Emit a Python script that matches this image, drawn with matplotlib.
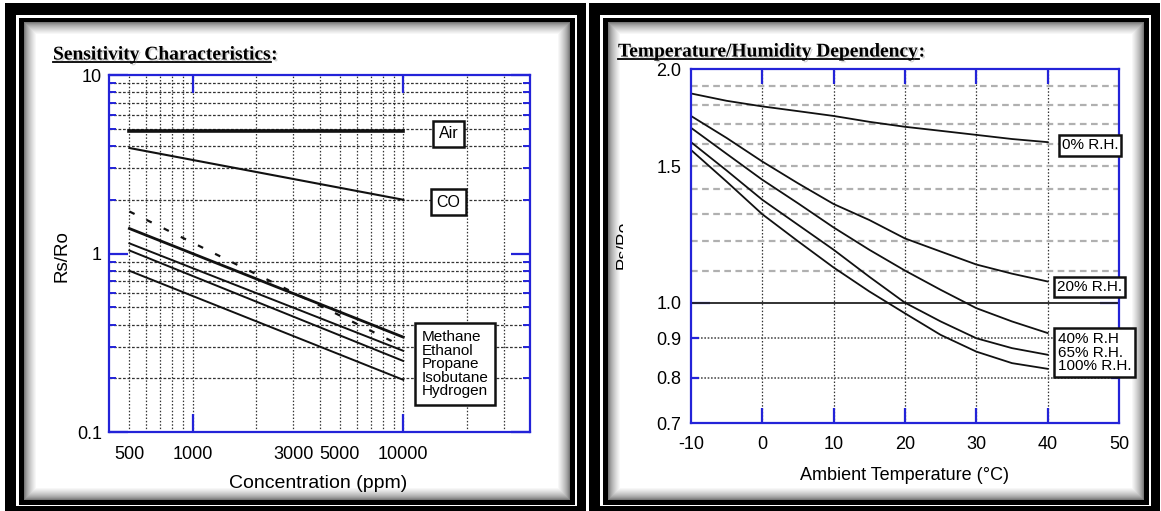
import matplotlib.pyplot as plt
import matplotlib.patheffects as pe
from matplotlib.patches import Rectangle
from matplotlib.lines import Line2D
from matplotlib.ticker import NullFormatter
from matplotlib.transforms import Bbox, TransformedBbox

plt.rcParams['font.family'] = ['Liberation Sans', 'DejaVu Sans']

# ---- left chart: sensitivity characteristics (log-log) ----
conc = [500, 10000]
air = [4.85, 4.85]
co = [3.9, 2.0]
methane = [1.72, 0.30]
ethanol = [1.38, 0.34]
propane = [1.14, 0.285]
isobutane = [1.04, 0.25]
hydrogen = [0.80, 0.196]

conc_ticks = [500, 1000, 3000, 5000, 10000]
conc_labels = ['500', '1000', '3000', '5000', '10000']
conc_grid = [500, 600, 700, 800, 900, 1000, 2000, 3000, 4000, 5000,
             6000, 7000, 8000, 9000, 10000, 20000, 30000]
ratio_grid = [0.2, 0.3, 0.4, 0.5, 0.6, 0.7, 0.8, 0.9,
              2, 3, 4, 5, 6, 7, 8, 9]
gas_names = ['Methane', 'Ethanol', 'Propane', 'Isobutane', 'Hydrogen']

# ---- right chart: temperature / humidity dependency ----
temp = [-10, -5, 0, 5, 10, 15, 20, 25, 30, 35, 40]
rh0 = [1.86, 1.82, 1.79, 1.765, 1.74, 1.71, 1.685, 1.665, 1.645, 1.625, 1.61]
rh20 = [1.74, 1.63, 1.52, 1.425, 1.34, 1.278, 1.21, 1.164, 1.12, 1.09, 1.065]
rh40 = [1.68, 1.555, 1.44, 1.343, 1.25, 1.17, 1.10, 1.039, 0.984, 0.946, 0.914]
rh65 = [1.61, 1.48, 1.357, 1.26, 1.17, 1.08, 1.00, 0.946, 0.90, 0.874, 0.857]
rh100 = [1.573, 1.432, 1.30, 1.20, 1.11, 1.034, 0.969, 0.909, 0.865, 0.836, 0.822]

temp_ticks = [-10, 0, 10, 20, 30, 40, 50]
dep_ticks = [0.7, 0.8, 0.9, 1.0, 1.5, 2.0]
dep_labels = ['0.7', '0.8', '0.9', '1.0', '1.5', '2.0']
dep_grid_dashed = [1.1, 1.2, 1.3, 1.4, 1.5, 1.6, 1.7, 1.8, 1.9]
dep_grid_dotted = [0.8, 0.9]

BLUE = '#2323d8'
W, H = 1161, 511
fig = plt.figure(figsize=(W / 100, H / 100), dpi=100)


def fx(px):
    return px / W


def fy(py):
    return 1 - py / H


def box(x0, y0, x1, y1, color, z):
    fig.add_artist(Rectangle((fx(x0), fy(y1)), (x1 - x0) / W, (y1 - y0) / H,
                             transform=fig.transFigure, facecolor=color,
                             edgecolor='none', zorder=z))


def frame(x0, y0, x1, y1):
    # thick black frame, white gap, thin black frame, soft inner shadow
    box(x0, y0, x1, y1, 'black', -10)
    box(x0 + 11, y0 + 12, x1 - 9, y1 - 8, 'white', -9.9)
    box(x0 + 14, y0 + 15, x1 - 11, y1 - 9, 'black', -9.8)
    n = 13
    for i in range(n):
        g = 0.3 + 0.7 * ((i + 1) / n) ** 0.55
        d = 19 + i
        box(x0 + d, y0 + d, x1 - 16 - i, y1 - 14 - i, (g, g, g), -9.7 + i * 0.01)


frame(5, 3, 586, 514)
frame(589, 3, 1160, 514)

shadow = [pe.SimplePatchShadow(offset=(1.2, -1.2), shadow_rgbFace='gray', alpha=0.35), pe.Normal()]


def title(x, y, ytext, s):
    r = fig.canvas.get_renderer()
    kw = dict(fontfamily=['Liberation Serif', 'DejaVu Serif'], fontweight='bold',
              fontsize=14, va='center', ha='left', path_effects=shadow)
    t = fig.text(fx(x), fy(ytext), s, **kw)
    bb = t.get_window_extent(r)
    fig.text(bb.x1 / W, fy(ytext), ':', **kw)
    fig.add_artist(Line2D([bb.x0 / W, bb.x1 / W], [fy(y), fy(y)], color='black',
                          lw=1.3, transform=fig.transFigure))


title(53, 62.5, 55, 'Sensitivity Characteristics')
title(618, 59.5, 52, 'Temperature/Humidity Dependency')

# ================= left axes =================
axL = fig.add_axes([fx(109), fy(432), (530 - 109) / W, (432 - 75) / H])
axL.set_facecolor('none')
axL.set_xscale('log')
axL.set_yscale('log')
axL.set_xlim(400, 40000)
axL.set_ylim(0.1, 10)

for v in conc_grid:
    axL.axvline(v, color='#333333', lw=0.9, ls=(0, (1.2, 1.5)), zorder=1)
for v in ratio_grid:
    axL.axhline(v, color='#333333', lw=0.9, ls=(0, (2.2, 1.4)), zorder=1)

axL.plot(conc, air, color='#111111', lw=2.6, zorder=3)
axL.plot(conc, co, color='#111111', lw=1.5, zorder=3)
axL.plot(conc, methane, color='#111111', lw=1.6, ls=(0, (2.6, 6.0)), zorder=3)
axL.plot(conc, ethanol, color='#111111', lw=2.0, zorder=3)
axL.plot(conc, propane, color='#111111', lw=1.4, zorder=3)
axL.plot(conc, isobutane, color='#111111', lw=1.4, zorder=3)
axL.plot(conc, hydrogen, color='#111111', lw=1.4, zorder=3)

for s in axL.spines.values():
    s.set_color(BLUE)
    s.set_linewidth(1.6)
    s.set_zorder(4)

axL.set_xticks(conc_ticks, conc_labels)
axL.set_xticks([1000, 10000], minor=True)
axL.xaxis.remove_overlapping_locs = False
axL.xaxis.set_minor_formatter(NullFormatter())
axL.tick_params(axis='x', which='major', length=0, pad=10, labelsize=13)
axL.tick_params(axis='x', which='minor', length=13, width=1.6, color=BLUE,
                direction='in', top=True, bottom=True)
axL.set_yticks([0.1, 1, 10], ['0.1', '1', '10'])
axL.set_yticks(ratio_grid, minor=True)
axL.yaxis.remove_overlapping_locs = False
axL.yaxis.set_minor_formatter(NullFormatter())
axL.tick_params(axis='y', which='major', length=14, width=1.6, color=BLUE,
                direction='in', left=True, right=True, pad=5, labelsize=13)
axL.tick_params(axis='y', which='minor', length=5, width=1.4, color=BLUE,
                direction='in', left=True, right=True)

lbl_box = dict(boxstyle='square,pad=0.35', fc='white', ec='#111111', lw=1.8)
axL.text(0.807, 0.835, 'Air', transform=axL.transAxes, ha='center', va='center',
         fontsize=11.5, bbox=lbl_box, zorder=5)
axL.text(0.806, 0.644, 'CO', transform=axL.transAxes, ha='center', va='center',
         fontsize=11.5, bbox=lbl_box, zorder=5)
axL.text(0.742, 0.190, '\n'.join(gas_names), transform=axL.transAxes, ha='left',
         va='center', fontsize=11, linespacing=0.95, zorder=5,
         bbox=dict(boxstyle='square,pad=0.45', fc='white', ec='#111111', lw=1.8))

fig.text(fx(318), fy(483), 'Concentration (ppm)', ha='center', va='center', fontsize=14)
fig.text(fx(62), fy(256), 'Rs/Ro', ha='center', va='center', rotation=90, fontsize=13.5)

# ================= right axes =================
axR = fig.add_axes([fx(691), fy(423), (1119 - 691) / W, (423 - 69) / H])
axR.set_facecolor('none')
axR.set_yscale('log')
axR.set_xlim(-10, 50)
axR.set_ylim(0.7, 2.0)

for v in temp_ticks[1:-1]:
    axR.axvline(v, color='#333333', lw=0.9, ls=(0, (1.2, 1.5)), zorder=1)
for v in dep_grid_dashed:
    axR.axhline(v, color='#b0b0b0', lw=1.6, ls=(0, (3.0, 2.0)), zorder=1)
for v in dep_grid_dotted:
    axR.axhline(v, color='#555555', lw=1.2, ls=(0, (1.0, 1.0)), zorder=1)
axR.axhline(1.0, color='#222222', lw=1.3, zorder=2)

for series in (rh0, rh20, rh40, rh65, rh100):
    axR.plot(temp, series, color='#111111', lw=1.3, zorder=3)

for s in axR.spines.values():
    s.set_color(BLUE)
    s.set_linewidth(1.6)
    s.set_zorder(4)

axR.set_xticks(temp_ticks, [str(t) for t in temp_ticks])
axR.set_xticks(temp_ticks[1:-1], minor=True)
axR.xaxis.remove_overlapping_locs = False
axR.tick_params(axis='x', which='major', length=0, pad=9, labelsize=13)
axR.tick_params(axis='x', which='minor', length=11, width=1.6, color=BLUE,
                direction='in', top=True, bottom=True)
axR.set_yticks(dep_ticks, dep_labels)
axR.set_yticks([0.8, 0.9, 1.0], minor=True)
axR.yaxis.remove_overlapping_locs = False
axR.yaxis.set_minor_formatter(NullFormatter())
axR.tick_params(axis='y', which='major', length=0, pad=7, labelsize=13)
axR.tick_params(axis='y', which='minor', length=6, width=1.6, color=BLUE,
                direction='in', left=True, right=True)
axR.yaxis.get_minor_ticks()[2].tick1line.set_markersize(14)
axR.yaxis.get_minor_ticks()[2].tick2line.set_markersize(14)

axR.text(0.932, 0.784, '0% R.H.', transform=axR.transAxes, ha='center', va='center',
         fontsize=11, bbox=dict(boxstyle='square,pad=0.2', fc='white', ec='#111111', lw=1.8),
         zorder=5)
axR.text(0.932, 0.384, '20% R.H.', transform=axR.transAxes, ha='center', va='center',
         fontsize=11, bbox=dict(boxstyle='square,pad=0.2', fc='white', ec='#111111', lw=1.8),
         zorder=5)
axR.text(0.857, 0.199, '40% R.H\n65% R.H.\n100% R.H.', transform=axR.transAxes,
         ha='left', va='center', fontsize=11, linespacing=0.95, zorder=5,
         bbox=dict(boxstyle='square,pad=0.25', fc='white', ec='#111111', lw=1.8))

fig.text(fx(905), fy(476), 'Ambient Temperature (\u00b0C)', ha='center', va='center', fontsize=13)
yl = fig.text(fx(623), fy(245), 'Rs/Ro', ha='center', va='center', rotation=90, fontsize=12.5)
yl.set_clip_box(TransformedBbox(Bbox.from_extents(fx(605), 0, fx(622.5), 1), fig.transFigure))
yl.set_clip_on(True)

fig.savefig('out.png', dpi=100)
